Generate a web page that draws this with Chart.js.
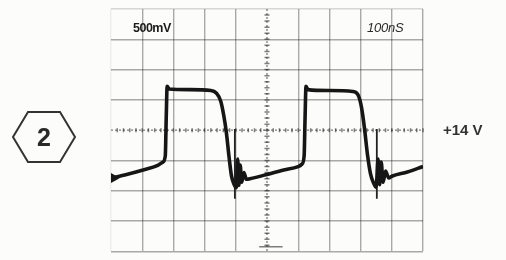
<!DOCTYPE html>
<html>
<head>
<meta charset="utf-8">
<script src="https://cdn.jsdelivr.net/npm/chart.js@4/dist/chart.umd.min.js"></script>
<style>
  html, body { margin: 0; padding: 0; background: #fcfcfa; }
  #wrap { position: relative; width: 506px; height: 260px; overflow: hidden; }
  #scope { position: absolute; left: 0; top: 0; }
  .lbl { position: absolute; font-family: "Liberation Sans", Arial, sans-serif; color: #1b1b1b; white-space: nowrap; }
  #volts { left: 133px; top: 21px; font-size: 12.5px; font-weight: bold; letter-spacing: -0.5px; }
  #time { left: 367px; top: 20px; font-size: 13px; font-style: italic; letter-spacing: -0.2px; color: #2a2a2a; }
  #supply { left: 443px; top: 121px; font-size: 15px; font-weight: bold; color: #333; }
  #hex { position: absolute; left: 10px; top: 109px; }
</style>
</head>
<body>
<div id="wrap">
  <canvas id="scope" width="506" height="260"></canvas>
  <div class="lbl" id="volts">500mV</div>
  <div class="lbl" id="time">100nS</div>
  <div class="lbl" id="supply">+14 V</div>
  <svg id="hex" width="68" height="56" viewBox="0 0 68 56">
    <polygon points="3,28 18,3 50,3 65,28 50,53 18,53" fill="none" stroke="#333" stroke-width="2"/>
    <text x="34" y="37" text-anchor="middle" font-family="Liberation Sans, Arial, sans-serif" font-size="25" font-weight="bold" fill="#2a2a2a">2</text>
  </svg>
</div>
<script>
// pantalla del osciloscopio: 10 divisiones x 8 divisiones, valores en divisiones
var traceT = [0.0, 0.5, 1.0, 1.5, 1.65, 1.74, 1.77, 1.80, 1.86, 2.5, 3.2, 3.38, 3.52, 3.62, 3.70, 3.78, 3.86, 3.94,
  4.02, 4.06, 4.10, 4.14, 4.19, 4.26, 4.34, 4.45, 5.0, 5.5, 6.0, 6.12, 6.19, 6.22, 6.25, 6.31, 7.0, 7.75, 7.92, 8.02,
  8.12, 8.22, 8.32, 8.42, 8.50, 8.56, 8.61, 8.66, 8.72, 8.80, 8.90, 9.0, 9.5, 10.0];
var traceV = [-1.58, -1.46, -1.32, -1.16, -1.06, -0.85, 0.4, 1.45, 1.36, 1.34, 1.31, 1.22, 0.95, 0.45, -0.1, -0.85, -1.5, -1.78,
  -1.9, -0.95, -1.82, -1.15, -1.72, -1.4, -1.62, -1.6, -1.46, -1.32, -1.2, -1.12, -0.85, 0.4, 1.45, 1.34, 1.31, 1.28, 1.16, 0.8,
  0.1, -0.8, -1.45, -1.75, -1.88, -0.95, -1.8, -1.05, -1.72, -1.35, -1.58, -1.52, -1.38, -1.2];
// picos finos en la bajada de cada pulso
var spikeT = [3.97, 8.52];
var spikeHi = [0.04, 0.04];
var spikeLo = [-2.26, -2.26];

var trace = traceT.map(function (t, i) { return { x: t, y: traceV[i] }; });
var spikes = [];
spikeT.forEach(function (t, i) {
  spikes.push({ x: t, y: spikeHi[i] }, { x: t, y: spikeLo[i] }, { x: t, y: null });
});

// ejes centrales punteados con marcas de subdivisión
var centerAxes = {
  id: 'centerAxes',
  beforeDatasetsDraw: function (chart) {
    var c = chart.ctx, xs = chart.scales.x, ys = chart.scales.y;
    var cx = xs.getPixelForValue(5), cy = ys.getPixelForValue(0);
    c.save();
    c.strokeStyle = 'rgba(40,40,40,0.6)';
    c.lineWidth = 1.3;
    c.setLineDash([2, 2]);
    c.beginPath();
    c.moveTo(xs.left, cy); c.lineTo(xs.right, cy);
    c.moveTo(cx, ys.top); c.lineTo(cx, ys.bottom);
    c.stroke();
    c.setLineDash([]);
    c.lineWidth = 1.5;
    c.beginPath();
    for (var v = 0.2; v < 10; v += 0.2) {
      var px = xs.getPixelForValue(v);
      c.moveTo(px, cy - 2); c.lineTo(px, cy + 2);
    }
    for (var w = -3.8; w < 4; w += 0.2) {
      var py = ys.getPixelForValue(w);
      c.moveTo(cx - 2.5, py); c.lineTo(cx + 2.5, py);
    }
    // marca de disparo abajo
    var my = ys.getPixelForValue(-3.85);
    c.moveTo(xs.getPixelForValue(4.75), my); c.lineTo(xs.getPixelForValue(5.5), my);
    c.stroke();
    c.restore();
  }
};

function gridColor(ctx) {
  var v = ctx.tick.value;
  if (v === 5 || (ctx.scale.axis === 'y' && v === 0)) return 'rgba(0,0,0,0)';
  if (ctx.scale.axis === 'x' && v === 0) return 'rgba(0,0,0,0.06)';
  if (ctx.scale.axis === 'y' && v === 4) return 'rgba(0,0,0,0.15)';
  return 'rgba(0,0,0,0.33)';
}

new Chart(document.getElementById('scope').getContext('2d'), {
  type: 'scatter',
  data: {
    datasets: [
      {
        data: trace, showLine: true, borderColor: '#161616', borderWidth: 3.6, cubicInterpolationMode: 'monotone',
        pointRadius: function (ctx) { return ctx.dataIndex === 0 ? 5 : 0; },
        pointStyle: 'triangle', rotation: 90, pointBackgroundColor: '#161616', pointBorderColor: '#161616'
      },
      { data: spikes, showLine: true, spanGaps: false, borderColor: '#222', borderWidth: 1.8, pointRadius: 0 }
    ]
  },
  options: {
    responsive: false, animation: false, events: [],
    layout: { padding: { left: 111, right: 83, top: 9, bottom: 3 } },
    plugins: { legend: { display: false }, tooltip: { enabled: false } },
    scales: {
      x: { type: 'linear', min: 0, max: 10, ticks: { display: false, stepSize: 1 }, border: { display: false },
        grid: { color: gridColor, lineWidth: 1.4, drawTicks: false } },
      y: { type: 'linear', min: -4, max: 4, ticks: { display: false, stepSize: 1 }, border: { display: false },
        grid: { color: gridColor, lineWidth: 1.4, drawTicks: false } }
    }
  },
  plugins: [centerAxes]
});
</script>
</body>
</html>
